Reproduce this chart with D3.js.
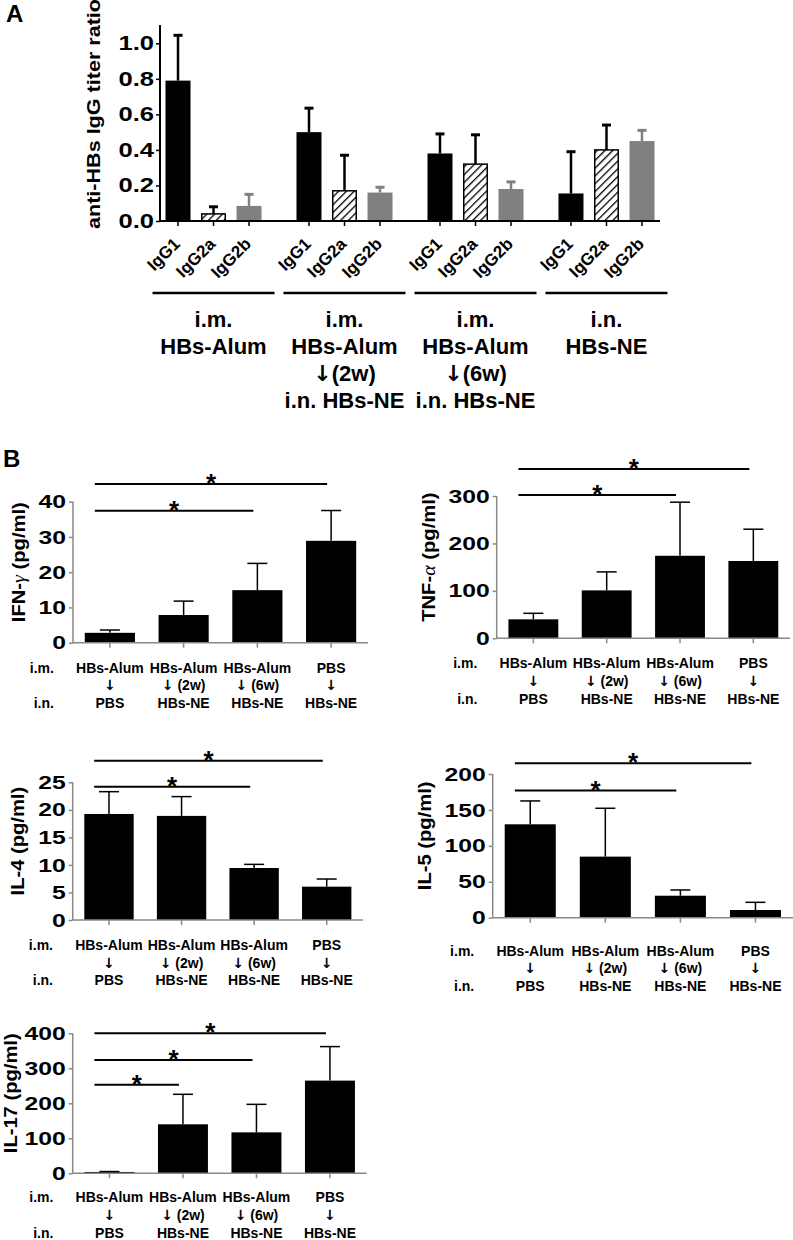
<!DOCTYPE html>
<html>
<head>
<meta charset="utf-8">
<script src="https://cdn.jsdelivr.net/npm/d3@7"></script>
<style>
  html, body { margin: 0; padding: 0; background: #fff; }
  svg { display: block; }
  text { font-family: "Liberation Sans", Arial, sans-serif; font-weight: bold; fill: #000; }
  .arw { font-family: "DejaVu Sans", sans-serif; font-weight: bold; }
</style>
</head>
<body>
<svg id="chart" width="793" height="1240"></svg>
<script>
// ---------------- Panel A data ----------------
const groupsA = ["g1", "g2", "g3", "g4"];
const groupLabelsA = [
  ["i.m.", "HBs-Alum"],
  ["i.m.", "HBs-Alum", "\u2193(2w)", "i.n. HBs-NE"],
  ["i.m.", "HBs-Alum", "\u2193(6w)", "i.n. HBs-NE"],
  ["i.n.", "HBs-NE"]
];
const subclasses = ["IgG1", "IgG2a", "IgG2b"];
const igg1Mean  = [0.79, 0.50, 0.38, 0.155];
const igg1Err   = [0.255, 0.135, 0.11, 0.235];
const igg2aMean = [0.04, 0.17, 0.32, 0.40];
const igg2aErr  = [0.04, 0.20, 0.165, 0.14];
const igg2bMean = [0.085, 0.16, 0.18, 0.45];
const igg2bErr  = [0.065, 0.03, 0.04, 0.06];
const ticksA = [0, 0.2, 0.4, 0.6, 0.8, 1.0];

// ---------------- Panel B data ----------------
const imRow  = ["HBs-Alum", "HBs-Alum", "HBs-Alum", "PBS"];
const arrRow = ["\u2193", "\u2193 (2w)", "\u2193 (6w)", "\u2193"];
const inRow  = ["PBS", "HBs-NE", "HBs-NE", "HBs-NE"];
const groupsB = ["A", "B", "C", "D"];

const ifnMean = [2.8, 7.85, 14.9, 28.9];
const ifnErr  = [0.8, 3.95, 7.6, 8.6];
const ifnTicks = [0, 10, 20, 30, 40];
const ifnSig = [[0, 2, 37.4], [0, 3, 45]];

const tnfMean = [40, 101, 174, 163];
const tnfErr  = [12.7, 39, 113, 67];
const tnfTicks = [0, 100, 200, 300];
const tnfSig = [[0, 2, 302], [0, 3, 357]];

const il4Mean = [19.25, 18.9, 9.44, 6.05];
const il4Err  = [4.05, 3.5, 0.66, 1.39];
const il4Ticks = [0, 5, 10, 15, 20, 25];
const il4Sig = [[0, 2, 24.2], [0, 3, 28.9]];

const il5Mean = [130, 85, 30.6, 10.7];
const il5Err  = [32.5, 67.3, 8, 10.7];
const il5Ticks = [0, 50, 100, 150, 200];
const il5Sig = [[0, 2, 177], [0, 3, 215]];

const il17Mean = [3.8, 140, 117, 264.8];
const il17Err  = [1.2, 85.7, 80, 97.2];
const il17Ticks = [0, 100, 200, 300, 400];
const il17Sig = [[0, 1, 253], [0, 2, 324], [0, 3, 400]];

// ---------------- Drawing ----------------
const svg = d3.select("#chart");
const FONT = '"Liberation Sans", Arial, sans-serif';

// text with arrow glyph rendered in a font that has it
function addText(sel, str) {
  const parts = str.split(/(\u2193)/).filter(p => p.length);
  parts.forEach(p => {
    const t = sel.append("tspan").text(p);
    if (p === "\u2193") t.attr("class", "arw");
  });
  return sel;
}
function widenTicks(axisG, pad, sx) {
  axisG.selectAll(".tick text").attr("x", 0)
    .attr("transform", `translate(${-pad},0) scale(${sx},1)`);
}

// hatch pattern
const defs = svg.append("defs");
const pat = defs.append("pattern").attr("id", "hatch").attr("patternUnits", "userSpaceOnUse")
  .attr("width", 5.5).attr("height", 5.5).attr("patternTransform", "rotate(45)");
pat.append("rect").attr("width", 5.5).attr("height", 5.5).attr("fill", "#fff");
pat.append("line").attr("x1", 0).attr("y1", 0).attr("x2", 0).attr("y2", 5.5)
  .attr("stroke", "#000").attr("stroke-width", 2.6);

// ===== Panel A =====
(function panelA() {
  const L = 160, R = 660, T = 25, B = 221;
  const y = d3.scaleLinear().domain([0, 1.0]).range([B, 43.3]);
  const x0 = d3.scaleBand().domain(groupsA).range([L, R]).paddingInner(0.267).paddingOuter(0.042);
  const x1 = d3.scaleBand().domain(subclasses).range([0, x0.bandwidth()]).paddingInner(0.296).paddingOuter(0);
  const g = svg.append("g");

  svg.append("text").attr("x", 6).attr("y", 22).attr("font-size", 24).text("A");

  const series = {
    IgG1: { m: igg1Mean, e: igg1Err, fill: "#000", ec: "#000" },
    IgG2a: { m: igg2aMean, e: igg2aErr, fill: "url(#hatch)", ec: "#000" },
    IgG2b: { m: igg2bMean, e: igg2bErr, fill: "#808080", ec: "#808080" }
  };
  const data = [];
  groupsA.forEach((gr, gi) => subclasses.forEach(s => data.push({ g: gr, gi, s, m: series[s].m[gi], e: series[s].e[gi] })));
  const cx = d => x0(d.g) + x1(d.s) + x1.bandwidth() / 2;

  // error bars
  g.selectAll(".eb").data(data).join("line")
    .attr("x1", cx).attr("x2", cx)
    .attr("y1", d => y(d.m)).attr("y2", d => y(d.m + d.e))
    .attr("stroke", d => series[d.s].ec).attr("stroke-width", 2.5);
  g.selectAll(".ec").data(data).join("line")
    .attr("x1", d => cx(d) - 4.5).attr("x2", d => cx(d) + 4.5)
    .attr("y1", d => y(d.m + d.e)).attr("y2", d => y(d.m + d.e))
    .attr("stroke", d => series[d.s].ec).attr("stroke-width", 3);
  // bars
  g.selectAll(".bar").data(data).join("rect")
    .attr("x", d => x0(d.g) + x1(d.s) + (d.s === "IgG2a" ? 0.75 : 0))
    .attr("width", d => x1.bandwidth() - (d.s === "IgG2a" ? 1.5 : 0))
    .attr("y", d => y(d.m)).attr("height", d => B - y(d.m))
    .attr("fill", d => series[d.s].fill)
    .attr("stroke", d => d.s === "IgG2a" ? "#000" : "none").attr("stroke-width", 1.5);

  // y axis
  const ya = g.append("g").attr("transform", `translate(${L},0)`)
    .call(d3.axisLeft(y).tickValues(ticksA).tickFormat(d3.format(".1f")).tickSize(4).tickPadding(3));
  ya.select(".domain").attr("d", `M0,${T}V${B}`).attr("stroke-width", 2);
  ya.selectAll(".tick line").attr("stroke-width", 1.5);
  ya.selectAll(".tick text").attr("font-size", 20).attr("font-family", FONT).attr("font-weight", "bold").attr("fill", "#000");
  widenTicks(ya, 6, 1.28);

  // x axis line & ticks
  g.append("line").attr("x1", L).attr("x2", R).attr("y1", B).attr("y2", B).attr("stroke", "#000").attr("stroke-width", 2);
  g.selectAll(".xt").data(data).join("line")
    .attr("x1", cx).attr("x2", cx)
    .attr("y1", B).attr("y2", B + 5).attr("stroke", "#000").attr("stroke-width", 1.5);
  g.selectAll(".xl").data(data).join("text")
    .attr("transform", d => `translate(${cx(d) + 3},${B + 24}) rotate(-45)`)
    .attr("text-anchor", "end").attr("font-size", 17).text(d => d.s);

  // y title
  svg.append("text").attr("transform", `translate(100,114) rotate(-90)`)
    .attr("text-anchor", "middle").attr("font-size", 18)
    .attr("textLength", 230).attr("lengthAdjust", "spacingAndGlyphs")
    .text("anti-HBs IgG titer ratio");

  // group separators and labels
  groupsA.forEach((gr, gi) => {
    const gcx = x0(gr) + x0.bandwidth() / 2;
    g.append("line").attr("x1", gcx - 61).attr("x2", gcx + 61).attr("y1", 293).attr("y2", 293)
      .attr("stroke", "#000").attr("stroke-width", 2.5);
    groupLabelsA[gi].forEach((t, li) => {
      const tx = g.append("text").attr("x", gcx).attr("y", 327 + li * 27).attr("text-anchor", "middle")
        .attr("font-size", 22);
      addText(tx, t);
    });
  });
})();

// ===== Panel B =====
svg.append("text").attr("x", 3).attr("y", 467).attr("font-size", 24).text("B");

function panelB(cfg) {
  const { L, R, T, B, max, ticks, mean, err, sig, title, greek, rest, labOff } = cfg;
  const g = svg.append("g");
  const x = d3.scaleBand().domain(groupsB).range([L, R]).paddingInner(0.32).paddingOuter(0.16);
  const y = d3.scaleLinear().domain([0, max]).range([B, T]);
  const data = groupsB.map((k, i) => ({ k, i, m: mean[i], e: err[i] }));
  const cx = d => x(d.k) + x.bandwidth() / 2;

  // error bars
  g.selectAll(".eb").data(data).join("line")
    .attr("x1", cx).attr("x2", cx).attr("y1", d => y(d.m)).attr("y2", d => y(d.m + d.e))
    .attr("stroke", "#000").attr("stroke-width", 1.5);
  g.selectAll(".ec").data(data).join("line")
    .attr("x1", d => cx(d) - 10).attr("x2", d => cx(d) + 10)
    .attr("y1", d => y(d.m + d.e)).attr("y2", d => y(d.m + d.e))
    .attr("stroke", "#000").attr("stroke-width", 1.5);
  // bars
  g.selectAll(".bar").data(data).join("rect")
    .attr("x", d => x(d.k)).attr("width", x.bandwidth())
    .attr("y", d => y(d.m)).attr("height", d => B - y(d.m)).attr("fill", "#000");

  // axes
  const ya = g.append("g").attr("transform", `translate(${L},0)`)
    .call(d3.axisLeft(y).tickValues(ticks).tickSize(4).tickPadding(3).tickFormat(d3.format("d")));
  ya.select(".domain").attr("d", `M0,${T}V${B}`).attr("stroke", "#888").attr("stroke-width", 1.5);
  ya.selectAll(".tick line").attr("stroke", "#888").attr("stroke-width", 1.5);
  ya.selectAll(".tick text").attr("font-size", 19).attr("font-family", FONT).attr("font-weight", "bold").attr("fill", "#000");
  widenTicks(ya, 7, 1.3);

  const xa = g.append("g").attr("transform", `translate(0,${B})`)
    .call(d3.axisBottom(x).tickSize(5).tickFormat(""));
  xa.select(".domain").attr("d", `M${L},0H${R}`).attr("stroke", "#888").attr("stroke-width", 1.5);
  xa.selectAll(".tick line").attr("stroke", "#888").attr("stroke-width", 1.5);

  // y title
  let minX = Infinity;
  ya.selectAll(".tick text").each(function () {
    const b = this.getBBox(); minX = Math.min(minX, L - 7 + b.x * 1.3);
  });
  const tcx = Math.max(minX - 14, 17), tcy = (T + B) / 2 - 10;
  const tt = svg.append("text").attr("transform", `translate(${tcx},${tcy}) rotate(-90) scale(1.12,1)`)
    .attr("text-anchor", "middle").attr("font-size", 18);
  tt.append("tspan").text(title);
  if (greek) tt.append("tspan").attr("font-family", '"Liberation Serif", serif').attr("font-style", "italic")
    .attr("font-weight", "normal").text(greek);
  tt.append("tspan").text(rest);

  // category labels
  const pitch = 17.6;
  const rowY = [B + labOff, B + labOff + pitch, B + labOff + 2 * pitch];
  const rows = [imRow, arrRow, inRow];
  rows.forEach((row, ri) => {
    data.forEach(d => {
      const t = g.append("text").attr("x", cx(d)).attr("y", rowY[ri]).attr("text-anchor", "middle").attr("font-size", 14);
      addText(t, row[d.i]);
    });
  });
  const x0c = cx(data[0]);
  g.append("text").attr("x", x0c - 56).attr("y", rowY[0]).attr("text-anchor", "end").attr("font-size", 14).text("i.m.");
  g.append("text").attr("x", x0c - 56).attr("y", rowY[2]).attr("text-anchor", "end").attr("font-size", 14).text("i.n.");

  // significance
  sig.forEach(([a, b, v]) => {
    const x1p = cx(data[a]) - x.bandwidth() * 0.3;
    const x2p = cx(data[b]) - x.bandwidth() * 0.08;
    g.append("line").attr("x1", x1p).attr("x2", x2p).attr("y1", y(v)).attr("y2", y(v))
      .attr("stroke", "#000").attr("stroke-width", 2);
    g.append("text").attr("x", (x1p + x2p) / 2).attr("y", y(v) + 8).attr("text-anchor", "middle")
      .attr("font-size", 26).text("*");
  });
}

panelB({ L: 73, R: 368, T: 501.7, B: 642.7, max: 40, ticks: ifnTicks, mean: ifnMean, err: ifnErr, sig: ifnSig,
  title: "IFN-", greek: "\u03b3", rest: " (pg/ml)", labOff: 30 });
panelB({ L: 496.7, R: 790, T: 496, B: 638.3, max: 300, ticks: tnfTicks, mean: tnfMean, err: tnfErr, sig: tnfSig,
  title: "TNF-", greek: "\u03b1", rest: " (pg/ml)", labOff: 30 });
panelB({ L: 72.7, R: 363, T: 782.3, B: 920, max: 25, ticks: il4Ticks, mean: il4Mean, err: il4Err, sig: il4Sig,
  title: "IL-4 (pg/ml)", greek: null, rest: "", labOff: 30 });
panelB({ L: 492.7, R: 793, T: 774, B: 917.7, max: 200, ticks: il5Ticks, mean: il5Mean, err: il5Err, sig: il5Sig,
  title: "IL-5 (pg/ml)", greek: null, rest: "", labOff: 38 });
panelB({ L: 72.7, R: 366.7, T: 1033.3, B: 1173.3, max: 400, ticks: il17Ticks, mean: il17Mean, err: il17Err, sig: il17Sig,
  title: "IL-17 (pg/ml)", greek: null, rest: "", labOff: 29 });
</script>
</body>
</html>
